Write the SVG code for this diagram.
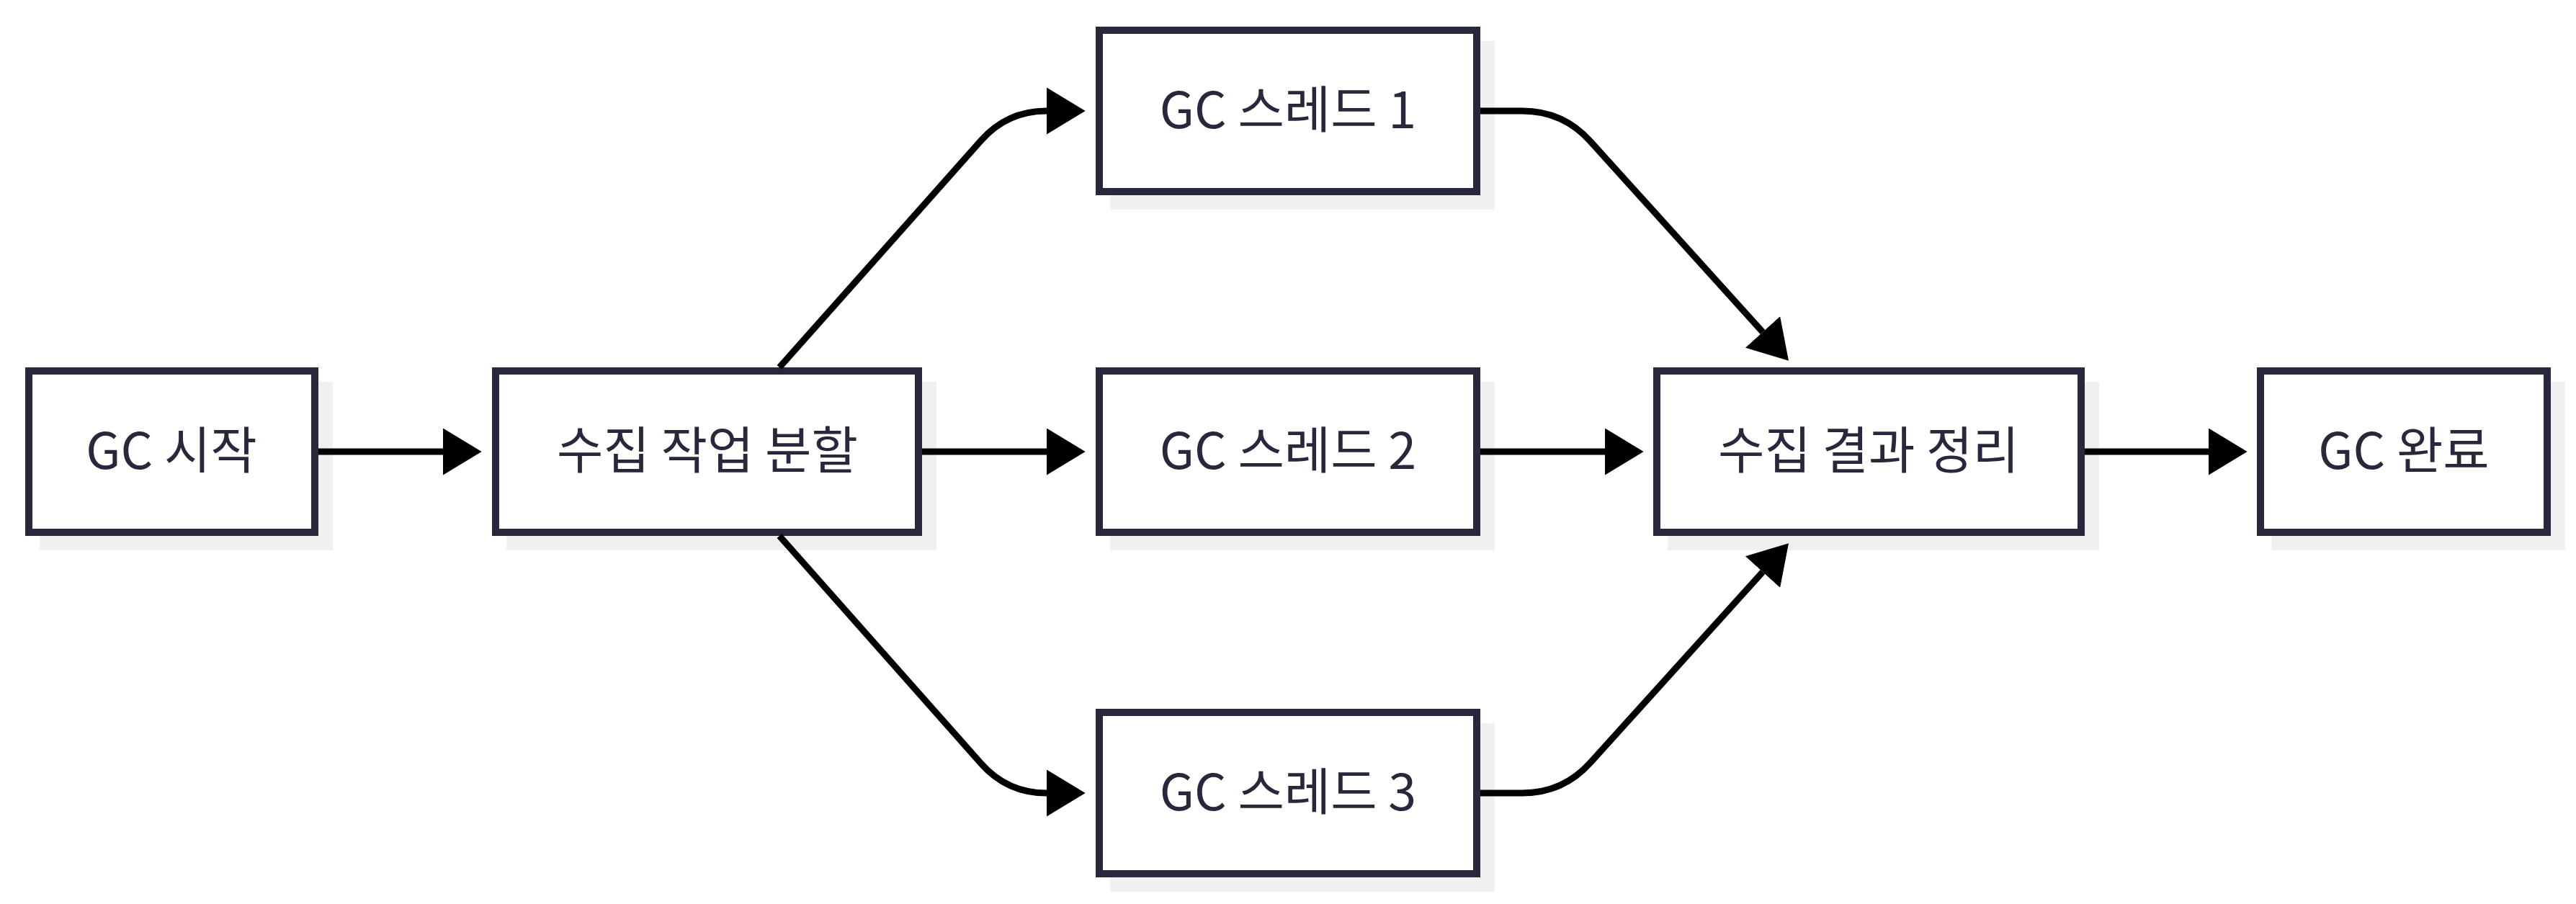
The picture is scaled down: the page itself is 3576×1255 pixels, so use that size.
<svg xmlns="http://www.w3.org/2000/svg" width="3576" height="1255" viewBox="0 0 3576 1255">
<defs>
<style>
.shadow{fill:#f0f0f0;}
.box{fill:#ffffff;stroke:#28283d;stroke-width:10;}
.lbl{font-family:"Noto Sans CJK KR","Noto Sans",sans-serif;font-size:70px;fill:#28283d;text-anchor:middle;}
.edge{fill:none;stroke:#000000;stroke-width:9;}
</style>
<marker id="arrow" markerUnits="userSpaceOnUse" markerWidth="54" markerHeight="65" refX="0" refY="31.5" orient="auto" viewBox="0 0 52 63">
<path d="M0,0 L52,31.5 L0,63 Z" fill="#000000"/>
</marker>
</defs>
<rect width="3576" height="1255" fill="#ffffff"/>

<g id="node-start">
<rect class="shadow" x="55" y="530" width="407" height="234"/>
<rect class="box" x="40" y="515" width="397" height="224"/>
<text class="lbl" x="238" y="651">GC 시작</text>
</g>
<g id="node-split">
<rect class="shadow" x="703" y="530" width="597" height="234"/>
<rect class="box" x="688" y="515" width="587" height="224"/>
<text class="lbl" x="982" y="651">수집 작업 분할</text>
</g>
<g id="node-thread1">
<rect class="shadow" x="1541" y="57" width="534" height="234"/>
<rect class="box" x="1526" y="42" width="524" height="224"/>
<text class="lbl" x="1788" y="178">GC 스레드 1</text>
</g>
<g id="node-thread2">
<rect class="shadow" x="1541" y="530" width="534" height="234"/>
<rect class="box" x="1526" y="515" width="524" height="224"/>
<text class="lbl" x="1788" y="651">GC 스레드 2</text>
</g>
<g id="node-thread3">
<rect class="shadow" x="1541" y="1004" width="534" height="234"/>
<rect class="box" x="1526" y="989" width="524" height="224"/>
<text class="lbl" x="1788" y="1125">GC 스레드 3</text>
</g>
<g id="node-merge">
<rect class="shadow" x="2315" y="530" width="599" height="234"/>
<rect class="box" x="2300" y="515" width="589" height="224"/>
<text class="lbl" x="2594" y="651">수집 결과 정리</text>
</g>
<g id="node-end">
<rect class="shadow" x="3153" y="530" width="408" height="234"/>
<rect class="box" x="3138" y="515" width="398" height="224"/>
<text class="lbl" x="3337" y="651">GC 완료</text>
</g>

<g id="connectors">
<path class="edge" d="M442,627 L615,627" marker-end="url(#arrow)"/>
<path class="edge" d="M1280,627 L1453,627" marker-end="url(#arrow)"/>
<path class="edge" d="M1082,510 L1361.7,195.3 Q1398,154 1453,154" marker-end="url(#arrow)"/>
<path class="edge" d="M1082,744 L1361.7,1059.7 Q1398,1101 1453,1101" marker-end="url(#arrow)"/>
<path class="edge" d="M2055,627 L2228,627" marker-end="url(#arrow)"/>
<path class="edge" d="M2055,154 L2113,154 Q2170,154 2208,196.5 L2447,461" marker-end="url(#arrow)"/>
<path class="edge" d="M2055,1101 L2113,1101 Q2170,1101 2208,1058.5 L2447,794" marker-end="url(#arrow)"/>
<path class="edge" d="M2894,627 L3066,627" marker-end="url(#arrow)"/>
</g>
</svg>
